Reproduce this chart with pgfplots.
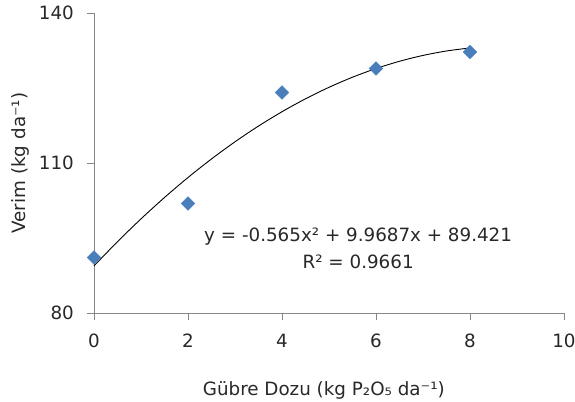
\documentclass[border=0pt]{standalone}
\usepackage{pgfplots}
\pgfplotsset{compat=1.18}
\usepackage{fontspec}
\setmainfont{DejaVu Sans}

\definecolor{ptblue}{RGB}{74,126,187}
\definecolor{axgray}{RGB}{134,134,134}
\definecolor{txt}{RGB}{40,40,40}

\begin{document}
\fontsize{18.3bp}{21bp}\selectfont
\begin{tikzpicture}
\path[use as bounding box] (-94bp,-89bp) rectangle (481bp,313bp);
\begin{axis}[
    at={(0,0)}, anchor=south west,
    scale only axis, width=470bp, height=300bp,
    xmin=0, xmax=10, ymin=80, ymax=140,
    xtick={0,2,4,6,8,10}, ytick={80,110,140},
    axis x line*=bottom, axis y line*=left,
    xtick align=outside, ytick align=outside,
    major tick length=7bp,
    axis line style={draw=axgray, line width=0.8bp},
    major tick style={draw=axgray, line width=0.9bp},
    /pgf/number format/assume math mode=true,
    tick label style={text=txt},
    yticklabel style={anchor=east, inner sep=0pt, xshift=-13bp},
    xticklabel style={anchor=north, inner sep=0pt, yshift=-14bp},
    every axis y label/.style={at={(axis description cs:0,0.5)}, xshift=-74bp, rotate=90, anchor=center, text=txt},
    every axis x label/.style={at={(axis description cs:0.489,0)}, yshift=-77bp, anchor=center, text=txt},
    xlabel={Gübre Dozu (kg P₂O₅ da⁻¹)},
    ylabel={Verim (kg da⁻¹)},
    clip=false,
]
% observed yields
\addplot[only marks, mark=square*, mark size=4.8bp,
    mark options={rotate=45, fill=ptblue, draw=ptblue}]
    coordinates {(0,91.1) (2,101.9) (4,124.1) (6,128.9) (8,132.2)};
% polynomial trendline (values from the fitted equation)
\addplot[black, line width=0.9bp, smooth, no marks] coordinates {
    (0,89.421) (0.5,94.264) (1,98.825) (1.5,103.103) (2,107.098)
    (2.5,110.812) (3,114.242) (3.5,117.390) (4,120.256) (4.5,122.839)
    (5,125.140) (5.5,127.158) (6,128.893) (6.5,130.346) (7,131.517)
    (7.5,132.405) (8,133.011)};
\node[align=center, text=txt] at (axis cs:5.62,93.0)
    {y = -0.565x² + 9.9687x + 89.421\\[6bp]R² = 0.9661};
\end{axis}
\end{tikzpicture}
\end{document}
